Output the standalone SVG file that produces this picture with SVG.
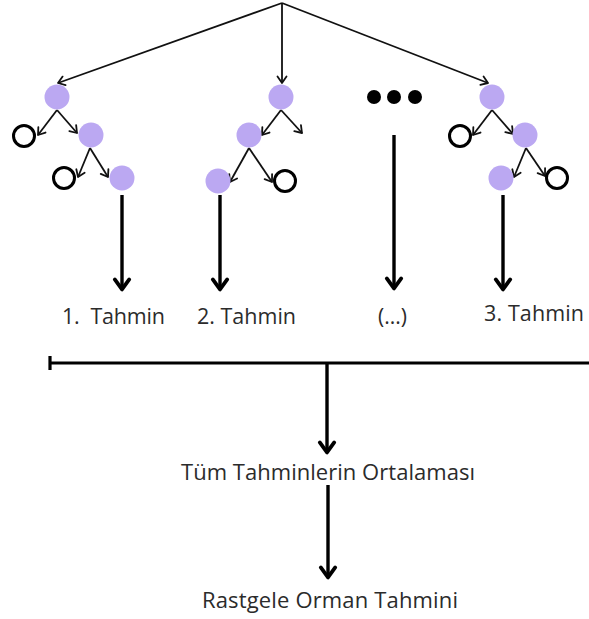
<svg xmlns="http://www.w3.org/2000/svg" width="589" height="619" viewBox="0 0 589 619">
<style>
.fill{fill:#bba8f2}
.open{fill:#fff;stroke:#000;stroke-width:3}
.thin{stroke:#111;stroke-width:1.8;fill:none;marker-end:url(#ah)}
.thick{stroke:#000;stroke-width:3.4;fill:none;marker-end:url(#ahb)}
.lbl{font-family:"Open Sans","Liberation Sans",sans-serif;fill:#2b2b2b}
</style>
<defs>
<marker id="ah" markerUnits="userSpaceOnUse" markerWidth="14" markerHeight="14" viewBox="-8 -7 10 14" refX="0" refY="0" orient="auto" overflow="visible">
<path d="M-6.5,-4.5 L0,0 L-6.5,4.5" fill="none" stroke="#111" stroke-width="1.8" stroke-linecap="round" stroke-linejoin="round"/>
</marker>
<marker id="ahb" markerUnits="userSpaceOnUse" markerWidth="20" markerHeight="20" viewBox="-12 -9 14 18" refX="0" refY="0" orient="auto" overflow="visible">
<path d="M-9.5,-6.5 L-0.5,0 L-9.5,6.5" fill="none" stroke="#000" stroke-width="3.4" stroke-linecap="round" stroke-linejoin="round"/>
</marker>
</defs>
<rect width="589" height="619" fill="#fff"/>
<g id="connectors">
<path class="thin" d="M282,3 L58,83"/>
<path class="thin" d="M282,3 L282,83"/>
<path class="thin" d="M282,3 L488,83"/>
<path class="thin" d="M57,110 L38,135"/>
<path class="thin" d="M57,110 L77,133"/>
<path class="thin" d="M90,148 L78,177"/>
<path class="thin" d="M90,148 L108,177"/>
<path class="thin" d="M281,110 L262,135"/>
<path class="thin" d="M281,110 L302,133"/>
<path class="thin" d="M249,148 L230,182"/>
<path class="thin" d="M249,148 L272,182"/>
<path class="thin" d="M492,110 L473,135"/>
<path class="thin" d="M492,110 L513,134"/>
<path class="thin" d="M526,148 L514,177"/>
<path class="thin" d="M526,148 L545,176"/>
<path class="thick" d="M122,195 L122,290"/>
<path class="thick" d="M220,195 L220,290"/>
<path class="thick" d="M394,135 L394,289"/>
<path class="thick" d="M503,195 L503,290"/>
<path d="M50,363 L589,363 M50,356 L50,370" stroke="#000" stroke-width="3.2" fill="none"/>
<path class="thick" d="M327,363 L327,453"/>
<path class="thick" d="M328,485 L328,578"/>
</g>
<g id="tree1">
<circle class="fill" cx="57" cy="97" r="12.5"/>
<circle class="open" cx="24" cy="136" r="10.5"/>
<circle class="fill" cx="91" cy="135" r="12.5"/>
<circle class="open" cx="64" cy="178" r="10.5"/>
<circle class="fill" cx="122" cy="178" r="12.5"/>
</g>
<g id="tree2">
<circle class="fill" cx="281" cy="97" r="12.5"/>
<circle class="fill" cx="249" cy="135" r="12.5"/>
<circle class="fill" cx="218" cy="181" r="12.5"/>
<circle class="open" cx="285" cy="181" r="10.5"/>
</g>
<g id="dots">
<circle cx="374" cy="97" r="7" fill="#000"/>
<circle cx="394" cy="97" r="7" fill="#000"/>
<circle cx="415" cy="97" r="7" fill="#000"/>
</g>
<g id="tree3">
<circle class="fill" cx="492" cy="97" r="12.5"/>
<circle class="open" cx="460" cy="136" r="10.5"/>
<circle class="fill" cx="525" cy="135" r="12.5"/>
<circle class="fill" cx="501" cy="178" r="12.5"/>
<circle class="open" cx="557" cy="178" r="10.5"/>
</g>
<g id="label1"><text class="lbl" x="62" y="324" font-size="21.5" textLength="103" lengthAdjust="spacing" xml:space="preserve">1.  Tahmin</text></g>
<g id="label2"><text class="lbl" x="197" y="324" font-size="21.5" textLength="99" lengthAdjust="spacing">2. Tahmin</text></g>
<g id="label3"><text class="lbl" x="392.5" y="324" font-size="21" text-anchor="middle">(...)</text></g>
<g id="label4"><text class="lbl" x="484" y="321" font-size="21.5" textLength="100" lengthAdjust="spacing">3. Tahmin</text></g>
<g id="average"><text class="lbl" x="181" y="480" font-size="22" textLength="294" lengthAdjust="spacing">Tüm Tahminlerin Ortalaması</text></g>
<g id="result"><text class="lbl" x="202" y="608" font-size="22" textLength="256" lengthAdjust="spacing">Rastgele Orman Tahmini</text></g>
</svg>
